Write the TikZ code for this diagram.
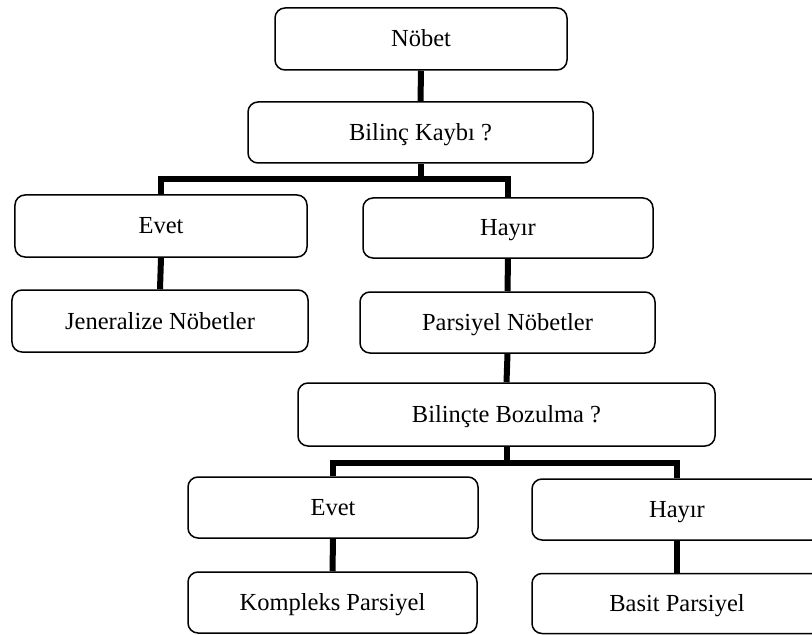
\documentclass[tikz,border=0pt]{standalone}
\usepackage{fontspec}
\setmainfont{Liberation Serif}
\begin{document}
\begin{tikzpicture}[x=1bp,y=-1bp,
  box/.style={draw=black, line width=1.5bp, rounded corners=10bp, fill=white,
    inner sep=0pt, font=\fontsize{24.5bp}{27bp}\selectfont, text height=16bp, text depth=0pt},
  conn/.style={draw=black, line width=6bp, line join=miter, line cap=butt}]
\useasboundingbox (0,0) rectangle (812,635);
\clip (0,0) rectangle (812,635);
\node[box, minimum width=292bp, minimum height=62bp] (nobet) at (421,39) {Nöbet};
\node[box, minimum width=345bp, minimum height=61bp] (bk) at (420.5,132.5) {Bilinç Kaybı ?};
\node[box, minimum width=292bp, minimum height=62bp] (evet1) at (161,226) {Evet};
\node[box, minimum width=290bp, minimum height=60bp] (hayir1) at (508,228) {Hayır};
\node[box, minimum width=296bp, minimum height=62bp] (jen) at (160,321) {Jeneralize Nöbetler};
\node[box, minimum width=295bp, minimum height=61bp] (par) at (507.5,322.5) {Parsiyel Nöbetler};
\node[box, minimum width=417bp, minimum height=63bp] (bb) at (506.5,414.5) {Bilinçte Bozulma ?};
\node[box, minimum width=290bp, minimum height=61bp] (evet2) at (333,507.5) {Evet};
\node[box, minimum width=290bp, minimum height=61bp] (hayir2) at (677,509.5) {Hayır};
\node[box, minimum width=289bp, minimum height=61bp] (komp) at (332.5,602.5) {Kompleks Parsiyel};
\node[box, minimum width=290bp, minimum height=60bp] (basit) at (677,603.5) {Basit Parsiyel};
\coordinate (b1) at (0,179);
\coordinate (b2) at (0,463);
\draw[conn] (nobet.south) -- (bk.north);
\draw[conn] (bk.south) -- (bk.south |- b1);
\draw[conn] (evet1.north) -- (evet1.north |- b1) -- (hayir1.north |- b1) -- (hayir1.north);
\draw[conn] (evet1.south) -- (jen.north);
\draw[conn] (hayir1.south) -- (par.north);
\draw[conn] (par.south) -- (bb.north);
\draw[conn] (bb.south) -- (bb.south |- b2);
\draw[conn] (evet2.north) -- (evet2.north |- b2) -- (hayir2.north |- b2) -- (hayir2.north);
\draw[conn] (evet2.south) -- (komp.north);
\draw[conn] (hayir2.south) -- (basit.north);
\end{tikzpicture}
\end{document}
